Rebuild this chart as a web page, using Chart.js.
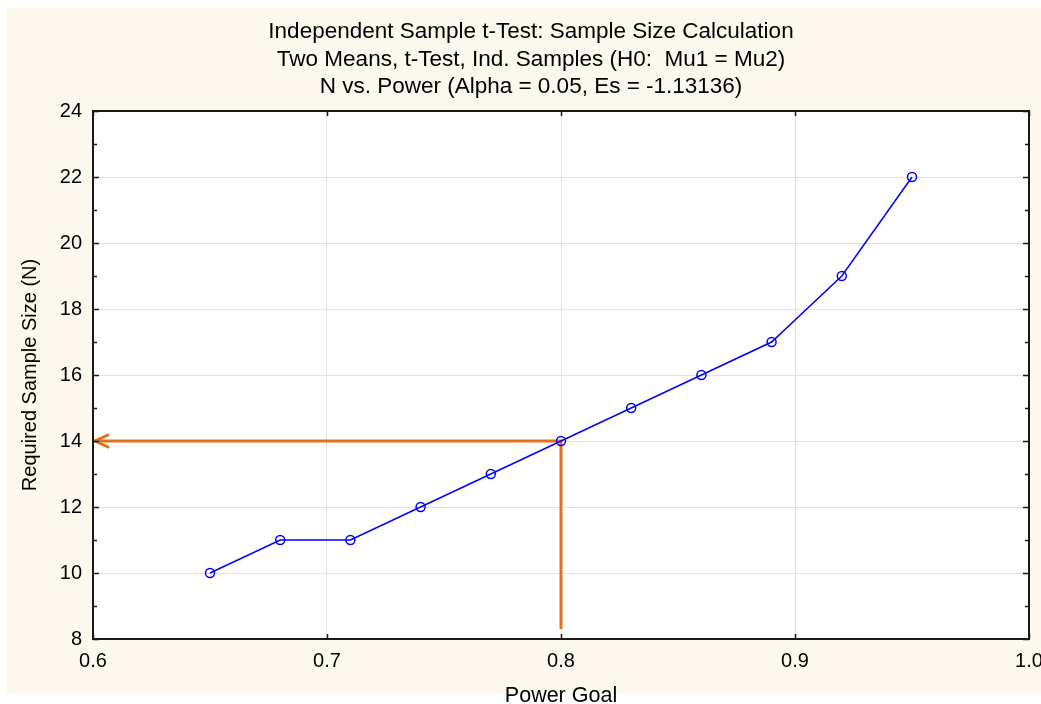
<!DOCTYPE html>
<html><head><meta charset="utf-8">
<script src="https://cdn.jsdelivr.net/npm/chart.js@4"></script>
<style>html,body{margin:0;padding:0;background:#fff;}canvas{display:block;}</style>
</head><body>
<canvas id="c" width="1041" height="704" style="width:1041px;height:704px"></canvas>
<script>
const TITLE_LINES = [
  'Independent Sample t-Test: Sample Size Calculation',
  'Two Means, t-Test, Ind. Samples (H0:  Mu1 = Mu2)',
  'N vs. Power (Alpha = 0.05, Es = -1.13136)'
];
const X_LABEL = 'Power Goal';
const Y_LABEL = 'Required Sample Size (N)';
const powerGoal = [0.65, 0.68, 0.71, 0.74, 0.77, 0.80, 0.83, 0.86, 0.89, 0.92, 0.95];
const sampleSize = [10, 11, 11, 12, 13, 14, 15, 16, 17, 19, 22];
const xTicks = [0.6, 0.7, 0.8, 0.9, 1.0];
const yTicks = [8, 10, 12, 14, 16, 18, 20, 22, 24];
const yMinorTicks = [9, 11, 13, 15, 17, 19, 21, 23];
const markPower = 0.8;
const markN = 14;
const markLineBottomN = 8.3;
const markArrowPower = 0.6;

const FONT = '"Liberation Sans", Arial, sans-serif';
const ORANGE = '#e3701c';
const BLUE = '#0000ff';

const decor = {
  id: 'decor',
  beforeDraw(chart) {
    const {ctx, chartArea: a, width, height} = chart;
    ctx.save();
    ctx.fillStyle = '#ffffff';
    ctx.fillRect(0, 0, width, height);
    ctx.fillStyle = '#fdf8ee';
    ctx.fillRect(7, 8, width - 7, 686);
    ctx.fillStyle = '#ffffff';
    ctx.fillRect(a.left, a.top, a.right - a.left, a.bottom - a.top);
    ctx.fillStyle = '#000';
    ctx.font = '22.5px ' + FONT;
    ctx.textAlign = 'center';
    ctx.textBaseline = 'middle';
    TITLE_LINES.forEach((t, i) => ctx.fillText(t, 531, 32 + i * 27.5));
    ctx.restore();
  },
  afterDatasetsDraw(chart) {
    const {ctx, chartArea: a, scales: {x, y}} = chart;
    ctx.save();
    // arrowhead
    const tx = x.getPixelForValue(markArrowPower) + 2;
    const ty = y.getPixelForValue(markN);
    ctx.strokeStyle = ORANGE;
    ctx.lineWidth = 3;
    ctx.lineCap = 'round';
    ctx.lineJoin = 'round';
    ctx.beginPath();
    ctx.moveTo(tx + 13, ty - 6);
    ctx.lineTo(tx, ty);
    ctx.lineTo(tx + 13, ty + 6);
    ctx.stroke();
    ctx.restore();
  },
  afterDraw(chart) {
    const {ctx, chartArea: a, scales: {x, y}} = chart;
    ctx.save();
    ctx.strokeStyle = '#1a1a1a';
    ctx.lineWidth = 1.5;
    ctx.beginPath();
    yTicks.forEach(v => {
      const py = Math.round(y.getPixelForValue(v)) + 0.5;
      ctx.moveTo(a.left, py); ctx.lineTo(a.left + 6, py);
      ctx.moveTo(a.right, py); ctx.lineTo(a.right - 6, py);
    });
    yMinorTicks.forEach(v => {
      const py = Math.round(y.getPixelForValue(v)) + 0.5;
      ctx.moveTo(a.left, py); ctx.lineTo(a.left + 4, py);
      ctx.moveTo(a.right, py); ctx.lineTo(a.right - 4, py);
    });
    xTicks.forEach(v => {
      const px = Math.round(x.getPixelForValue(v)) + 0.5;
      ctx.moveTo(px, a.top); ctx.lineTo(px, a.top + 5);
      ctx.moveTo(px, a.bottom); ctx.lineTo(px, a.bottom - 5);
    });
    ctx.stroke();
    ctx.lineWidth = 2;
    ctx.strokeRect(a.left, a.top, a.right - a.left, a.bottom - a.top);
    ctx.restore();
  }
};

new Chart(document.getElementById('c'), {
  type: 'line',
  data: {
    datasets: [
      {
        label: 'marker',
        data: [
          {x: markPower, y: markLineBottomN},
          {x: markPower, y: markN},
          {x: markArrowPower, y: markN}
        ],
        borderColor: ORANGE,
        borderWidth: 3,
        pointRadius: 0,
        tension: 0,
        fill: false,
        order: 2
      },
      {
        label: 'N',
        data: powerGoal.map((p, i) => ({x: p, y: sampleSize[i]})),
        borderColor: BLUE,
        borderWidth: 1.5,
        pointRadius: 4.5,
        pointBorderWidth: 1.5,
        pointBorderColor: BLUE,
        pointBackgroundColor: 'rgba(0,0,0,0)',
        tension: 0,
        fill: false,
        order: 1
      }
    ]
  },
  options: {
    responsive: false,
    devicePixelRatio: 1,
    animation: false,
    events: [],
    layout: {padding: {left: 7, top: 111, right: 12, bottom: 0}},
    plugins: {legend: {display: false}, title: {display: false}, tooltip: {enabled: false}},
    scales: {
      x: {
        type: 'linear',
        min: 0.6, max: 1.0,
        afterBuildTicks: s => { s.ticks = xTicks.map(v => ({value: v})); },
        ticks: {
          color: '#000', padding: 10, maxRotation: 0, autoSkip: false,
          font: {size: 20, family: FONT},
          callback: v => Number(v).toFixed(1)
        },
        grid: {color: '#e2e2e2', lineWidth: 1, drawTicks: false},
        border: {display: false},
        title: {display: true, text: X_LABEL, color: '#000',
          font: {size: 21.5, family: FONT, lineHeight: 0.73}, padding: {top: 0, bottom: 0}},
        afterFit(s) { s.height = 65; s.paddingLeft = 0; s.paddingRight = 12; }
      },
      y: {
        type: 'linear',
        min: 8, max: 24,
        afterBuildTicks: s => { s.ticks = yTicks.map(v => ({value: v})); },
        ticks: {color: '#000', padding: 11, font: {size: 20, family: FONT}},
        grid: {color: '#e2e2e2', lineWidth: 1, drawTicks: false},
        border: {display: false},
        title: {display: true, text: Y_LABEL, color: '#000',
          font: {size: 20, family: FONT}, padding: {top: 11, bottom: 0}},
        afterFit(s) { s.width = 86; s.paddingTop = 0; s.paddingBottom = 0; }
      }
    }
  },
  plugins: [decor]
});
</script>
</body></html>
